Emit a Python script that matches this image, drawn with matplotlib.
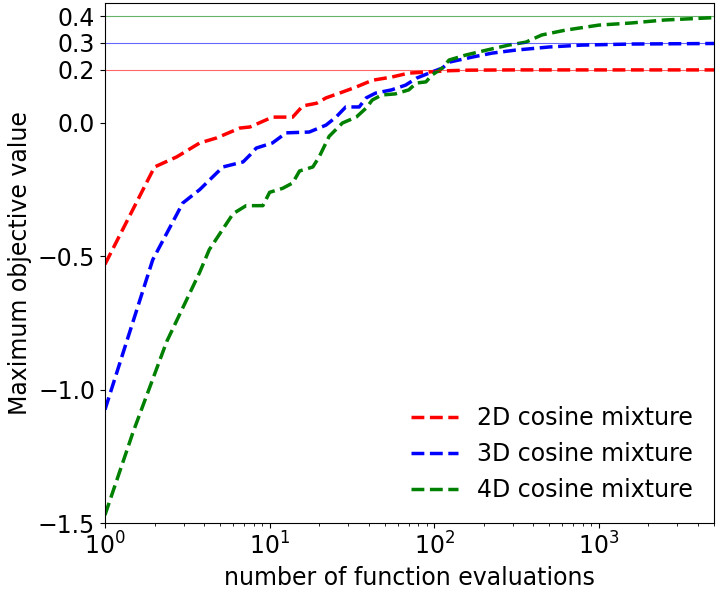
import numpy as np
import matplotlib
matplotlib.use('Agg')
from matplotlib import pyplot as plt

# best objective value vs number of evaluations
x_2d = [1, 2, 2.73, 3.76, 4.77, 6.6, 7.6, 10.4, 13.8, 15.9, 19.3, 22, 27.7, 33.6,
        42, 55, 70, 85, 123, 160, 300, 1000, 5000]
y_2d = [-0.53, -0.165, -0.127, -0.075, -0.056, -0.019, -0.015, 0.022, 0.022, 0.064,
        0.074, 0.094, 0.116, 0.135, 0.16, 0.172, 0.187, 0.19, 0.196, 0.198, 0.199,
        0.199, 0.199]

x_3d = [1, 1.95, 2.97, 3.76, 5.2, 6.9, 7.6, 8.3, 10.4, 12.6, 17.4, 22, 25.3, 29,
        35, 38.6, 44, 55, 67, 78, 93, 112, 123, 170, 225, 310, 500, 790, 1580, 5000]
y_3d = [-1.075, -0.513, -0.30, -0.25, -0.165, -0.146, -0.12, -0.094, -0.075, -0.037,
        -0.034, -0.008, 0.022, 0.06, 0.06, 0.094, 0.112, 0.124, 0.142, 0.168, 0.187,
        0.206, 0.228, 0.247, 0.262, 0.273, 0.285, 0.292, 0.296, 0.298]

x_4d = [1, 1.48, 2.37, 3.76, 4.3, 6, 7.2, 9.1, 10, 12, 13.8, 15.2, 18.3, 20, 23,
        27.7, 33.6, 38.6, 42, 48, 58, 70, 78, 89, 97, 112, 123, 156, 207, 283, 360,
        450, 625, 1000, 1580, 2500, 5000]
y_4d = [-1.47, -1.16, -0.82, -0.56, -0.475, -0.34, -0.31, -0.31, -0.26, -0.245,
        -0.225, -0.18, -0.165, -0.127, -0.05, 0.0, 0.022, 0.056, 0.086, 0.105, 0.109,
        0.124, 0.15, 0.154, 0.18, 0.206, 0.236, 0.255, 0.273, 0.292, 0.303, 0.33,
        0.348, 0.367, 0.375, 0.386, 0.395]

optima = [0.2, 0.3, 0.4]
labels = ['2D cosine mixture', '3D cosine mixture', '4D cosine mixture']
colors = ['red', 'blue', 'green']

FS = 17

fig = plt.figure(figsize=(7.17, 5.91), dpi=100)
ax = fig.add_axes([0.1464, 0.115, 0.8494, 0.88])

for xs, ys, lab, col in zip([x_2d, x_3d, x_4d], [y_2d, y_3d, y_4d], labels, colors):
    ax.plot(xs, ys, '--', color=col, linewidth=2.5, label=lab)

for opt, col in zip(optima, colors):
    ax.axhline(opt, color=col, linewidth=0.8, alpha=0.6)

ax.set_xscale('log')
ax.set_xlim(1, 5000)
ax.set_ylim(-1.5, 0.45)
ax.set_yticks([-1.5, -1.0, -0.5, 0.0, 0.2, 0.3, 0.4])
ax.tick_params(labelsize=FS)
ax.set_xlabel('number of function evaluations', fontsize=FS)
ax.set_ylabel('Maximum objective value', fontsize=FS)
ax.legend(loc='lower right', frameon=False, fontsize=FS)

fig.savefig('out.png', dpi=100)
